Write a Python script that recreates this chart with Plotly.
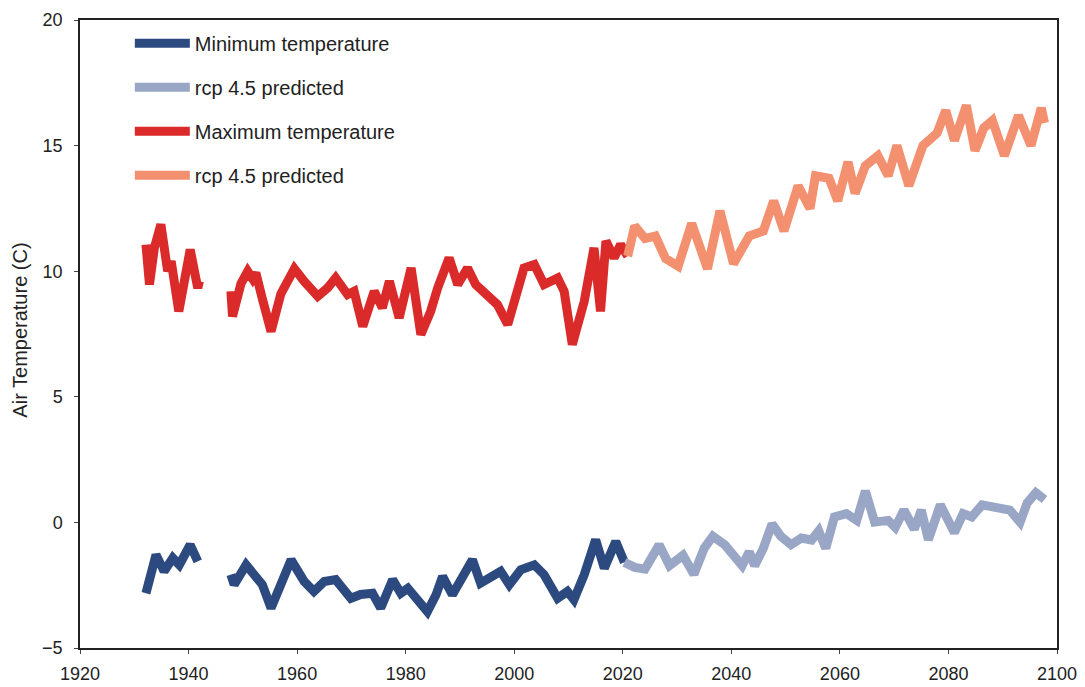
import plotly.graph_objects as go

# ---- Data ----
max_years = [1932.15, 1932.8, 1933.7, 1934.9, 1936.15, 1936.8, 1938.2, 1940.3, 1941.7, 1942.0,
             None,
             1947.8, 1948.1, 1949.65, 1950.9, 1951.8, 1952.4, 1953.6, 1955.2, 1957.0, 1959.5,
             1961.3, 1963.8, 1965.6, 1967.1, 1969.3, 1970.5, 1972.1, 1974.2, 1975.7, 1977.0,
             1978.8, 1981.0, 1982.8, 1984.6, 1985.9, 1988.0, 1989.6, 1991.4, 1992.9, 1995.1,
             1996.9, 1998.8, 2000.0, 2001.8, 2003.7, 2005.5, 2008.0, 2009.2, 2010.7, 2012.9,
             2014.7, 2015.9, 2016.9, 2018.4, 2019.6, 2020.9]
max_vals = [11.06, 9.47, 10.93, 11.86, 10.0, 10.4, 8.4, 10.86, 9.33, 9.6,
            None,
            9.2, 8.2, 9.5, 10.0, 9.7, 9.93, 8.9, 7.6, 9.1, 10.1,
            9.6, 9.0, 9.33, 9.73, 9.07, 9.2, 7.8, 9.2, 8.54, 9.6,
            8.14, 10.13, 7.48, 8.4, 9.33, 10.53, 9.47, 10.13, 9.47, 9.07,
            8.67, 7.88, 8.8, 10.13, 10.27, 9.47, 9.73, 9.2, 7.08, 8.8,
            10.93, 8.4, 11.2, 10.53, 11.06, 10.6]

max_rcp_years = [2020.9, 2022.2, 2024.1, 2026.0, 2027.9, 2030.2, 2032.7, 2035.6, 2037.9, 2040.4,
                 2043.3, 2045.9, 2047.8, 2049.7, 2052.3, 2054.5, 2055.5, 2058.0, 2059.6, 2061.5,
                 2062.8, 2064.7, 2067.0, 2068.9, 2070.5, 2072.7, 2075.3, 2077.9, 2079.5, 2081.1,
                 2083.3, 2084.9, 2086.5, 2088.1, 2090.3, 2092.9, 2095.2, 2097.1, 2097.7]
max_rcp_vals = [10.6, 11.8, 11.3, 11.4, 10.5, 10.2, 11.9, 10.1, 12.4, 10.3,
                11.4, 11.6, 12.8, 11.6, 13.4, 12.5, 13.8, 13.7, 12.8, 14.35,
                13.1, 14.2, 14.6, 13.8, 15.0, 13.4, 15.0, 15.5, 16.4, 15.2,
                16.6, 14.8, 15.7, 16.0, 14.6, 16.2, 15.0, 16.5, 15.9]

min_years = [1932.15, 1932.8, 1934.0, 1935.5, 1937.1, 1938.3, 1940.3, 1941.7,
             None,
             1947.8, 1948.4, 1950.6, 1952.1, 1953.6, 1955.2, 1956.7, 1958.9, 1961.3, 1963.1,
             1965.0, 1967.1, 1969.9, 1971.7, 1973.9, 1975.4, 1977.6, 1979.1, 1980.4, 1982.2,
             1984.0, 1985.6, 1986.8, 1988.6, 1990.2, 1992.3, 1993.8, 1996.3, 1997.5, 1999.1,
             2001.2, 2003.7, 2005.5, 2008.0, 2009.8, 2011.0, 2012.9, 2015.0, 2016.6, 2018.7,
             2019.9, 2020.3]
min_vals = [-2.82, -2.35, -1.29, -1.95, -1.42, -1.69, -0.89, -1.55,
            None,
            -2.08, -2.48, -1.69, -2.08, -2.48, -3.41, -2.62, -1.49, -2.35, -2.75,
            -2.35, -2.28, -3.02, -2.87, -2.82, -3.41, -2.28, -2.82, -2.62, -3.08,
            -3.55, -2.88, -2.15, -2.88, -2.35, -1.49, -2.42, -2.08, -1.95, -2.48,
            -1.89, -1.69, -2.08, -3.02, -2.75, -3.08, -2.08, -0.69, -1.82, -0.76,
            -1.35, -1.59]

min_rcp_years = [2020.3, 2022.2, 2024.1, 2026.7, 2028.6, 2031.1, 2033.1, 2035.0, 2036.6, 2038.8,
                 2042.0, 2043.3, 2044.3, 2045.9, 2047.5, 2049.1, 2051.0, 2052.9, 2054.8, 2056.1,
                 2057.4, 2059.0, 2061.2, 2063.1, 2064.7, 2066.4, 2068.9, 2070.2, 2071.8, 2073.7,
                 2075.0, 2076.3, 2078.5, 2081.1, 2082.7, 2084.3, 2086.2, 2088.7, 2091.3, 2093.2,
                 2094.5, 2096.1, 2097.7]
min_rcp_vals = [-1.59, -1.79, -1.86, -0.89, -1.72, -1.31, -2.07, -1.03, -0.55, -0.89,
                -1.72, -1.17, -1.72, -1.03, -0.06, -0.55, -0.89, -0.62, -0.7, -0.34,
                -1.03, 0.22, 0.35, 0.08, 1.25, 0.01, 0.08, -0.2, 0.49, -0.27,
                0.49, -0.69, 0.7, -0.41, 0.35, 0.22, 0.7, 0.63, 0.49, 0.01,
                0.77, 1.18, 0.91]

x_ticks = [1920, 1940, 1960, 1980, 2000, 2020, 2040, 2060, 2080, 2100]
y_ticks = [-5, 0, 5, 10, 15, 20]
y_title = "Air Temperature (C)"

series = [
    ("Minimum temperature", min_years, min_vals, "#2c4a80", "g1"),
    ("rcp 4.5 predicted", min_rcp_years, min_rcp_vals, "#9aa6c6", "g2"),
    ("Maximum temperature", max_years, max_vals, "#da2a2a", "g3"),
    ("rcp 4.5 predicted", max_rcp_years, max_rcp_vals, "#f3906f", "g4"),
]

fig = go.Figure()
for name, xs, ys, color, grp in series:
    fig.add_trace(go.Scatter(
        x=xs, y=ys, name=name, mode="lines", legendgroup=grp,
        line=dict(color=color, width=9, shape="linear"),
        connectgaps=False,
    ))

fig.update_layout(
    width=1085, height=687,
    margin=dict(l=72, r=36, t=12, b=47),
    paper_bgcolor="white", plot_bgcolor="white",
    font=dict(family="Liberation Sans, Arial, sans-serif", size=18, color="#222"),
    showlegend=True,
    legend=dict(
        x=0.051, y=0.994, xanchor="left", yanchor="top",
        bgcolor="rgba(0,0,0,0)", borderwidth=0,
        font=dict(size=20, color="#222"),
        tracegroupgap=15, itemwidth=55,
        traceorder="grouped",
    ),
    xaxis=dict(
        range=[1920, 2100], tickvals=x_ticks, ticks="outside", ticklen=4,
        showline=True, linecolor="#222", linewidth=1.5, mirror=True,
        showgrid=False, zeroline=False, tickfont=dict(size=18),
        ticklabelstandoff=5, automargin=False,
    ),
    yaxis=dict(
        range=[-5, 20], tickvals=y_ticks, ticks="outside", ticklen=4,
        showline=True, linecolor="#222", linewidth=1.5, mirror=True,
        showgrid=False, zeroline=False, tickfont=dict(size=18),
        ticklabelstandoff=8, automargin=False,
    ),
    annotations=[dict(
        text=y_title, textangle=-90, showarrow=False,
        xref="paper", yref="paper", x=-0.061, y=0.506,
        xanchor="center", yanchor="middle",
        font=dict(size=20, color="#222"),
    )],
)

fig.write_html("out.html")
